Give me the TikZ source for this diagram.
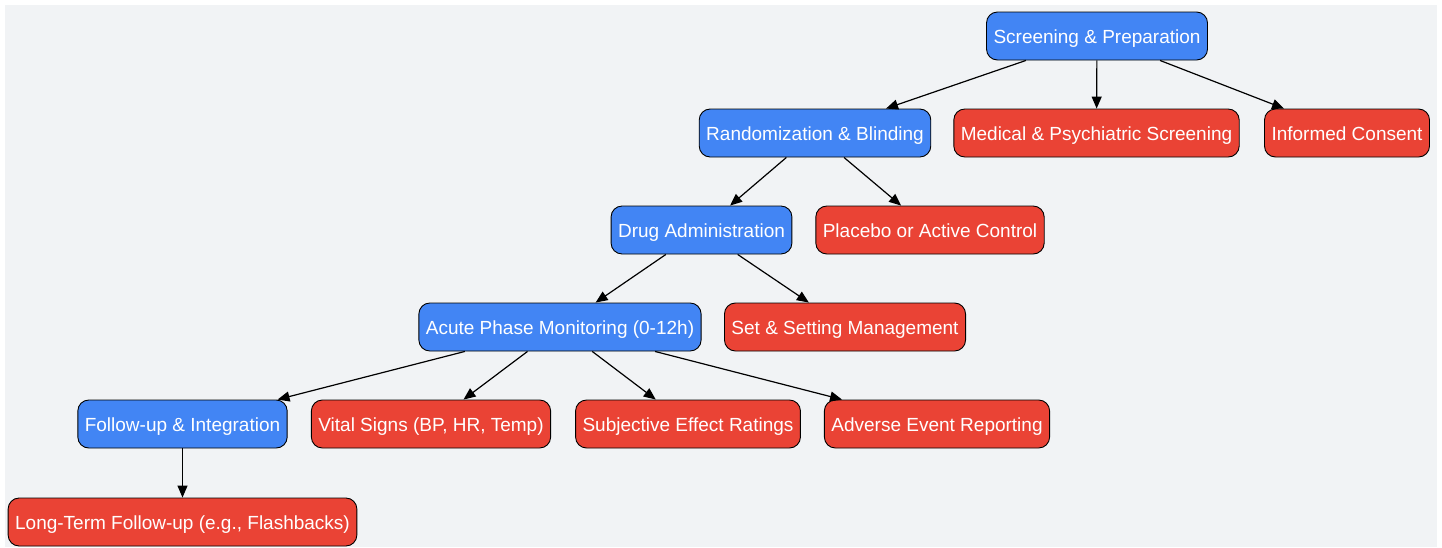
\documentclass[tikz,border=0pt]{standalone}
\usepackage{fontspec}
\setmainfont{Liberation Sans}
\usetikzlibrary{arrows.meta}
\definecolor{stepblue}{HTML}{4285F4}
\definecolor{stepred}{HTML}{EA4335}
\definecolor{backgray}{HTML}{F1F3F5}
\begin{document}
\begin{tikzpicture}
[x=1pt,y=-1pt,
  boxdecorate/.style={shape=rectangle,rounded corners=11pt,draw=black,line width=0.9pt,
    minimum height=48pt,inner xsep=7pt,text height=15pt,text depth=0pt,
    text=white,font=\fontsize{19}{22}\selectfont},%
  phasedecorate/.style={boxdecorate,fill=stepblue},%
  taskdecorate/.style={boxdecorate,fill=stepred},%
  arrowdecorate/.style={-{Triangle[length=12pt,width=10pt]},line width=1.2pt}]
\useasboundingbox (0,0) rectangle (1442,547);
\fill[backgray] (5,5) rectangle (1437,547);
% nodes or vertices
\node (screen) at (1097,36) [phasedecorate] {Screening \& Preparation};
\node (rand) at (815,133) [phasedecorate] {Randomization \& Blinding};
\node (medical) at (1096.5,133) [taskdecorate] {Medical \& Psychiatric Screening};
\node (consent) at (1347,133) [taskdecorate] {Informed Consent};
\node (drug) at (701.5,230) [phasedecorate] {Drug Administration};
\node (placebo) at (930,230) [taskdecorate] {Placebo or Active Control};
\node (acute) at (560,327) [phasedecorate] {Acute Phase Monitoring (0-12h)};
\node (setting) at (845,327) [taskdecorate] {Set \& Setting Management};
\node (follow) at (182.5,424) [phasedecorate] {Follow-up \& Integration};
\node (vital) at (431,424) [taskdecorate] {Vital Signs (BP, HR, Temp)};
\node (subj) at (688,424) [taskdecorate] {Subjective Effect Ratings};
\node (adverse) at (937,424) [taskdecorate] {Adverse Event Reporting};
\node (longterm) at (182.5,522) [taskdecorate] {Long-Term Follow-up (e.g., Flashbacks)};
% edges or lines
\path
(screen) edge[arrowdecorate] (rand)
(screen) edge[arrowdecorate] (medical)
(screen) edge[arrowdecorate] (consent)
(rand) edge[arrowdecorate] (drug)
(rand) edge[arrowdecorate] (placebo)
(drug) edge[arrowdecorate] (acute)
(drug) edge[arrowdecorate] (setting)
(acute) edge[arrowdecorate] (follow)
(acute) edge[arrowdecorate] (vital)
(acute) edge[arrowdecorate] (subj)
(acute) edge[arrowdecorate] (adverse)
(follow) edge[arrowdecorate] (longterm);
\end{tikzpicture}
\end{document}
